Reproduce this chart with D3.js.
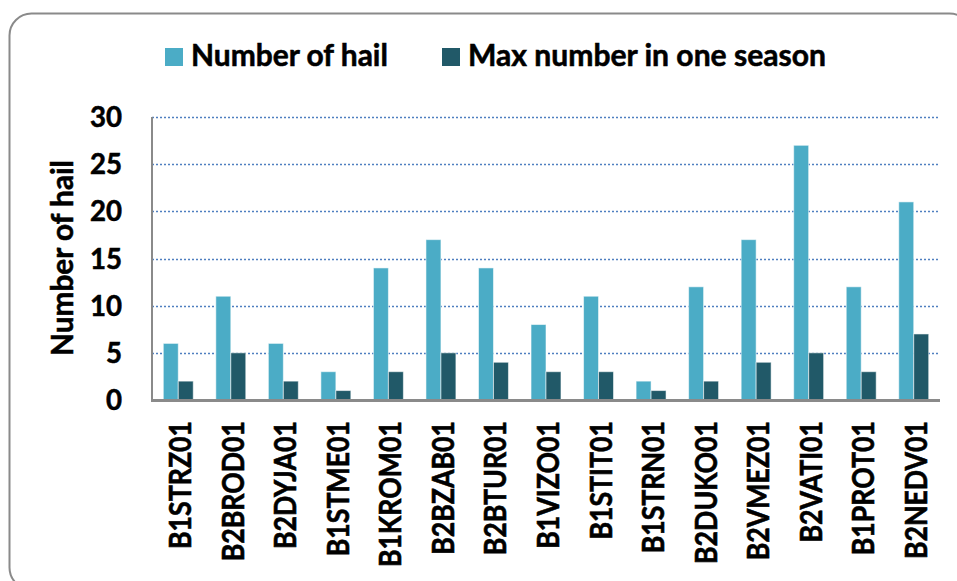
<!DOCTYPE html>
<html>
<head>
<meta charset="utf-8">
<script src="https://cdn.jsdelivr.net/npm/d3@7"></script>
<style>
  html, body { margin: 0; padding: 0; background: #fff; }
  svg { display: block; }
  text { font-family: Lato, "Open Sans", sans-serif; font-weight: bold; fill: #000; stroke: #000; stroke-width: 0.55px; }
</style>
</head>
<body>
<svg id="chart" width="957" height="581"></svg>
<script>
const categories = ["B1STRZ01","B2BROD01","B2DYJA01","B1STME01","B1KROM01","B2BZAB01","B2BTUR01","B1VIZO01","B1STIT01","B1STRN01","B2DUKO01","B2VMEZ01","B2VATI01","B1PROT01","B2NEDV01"];
const numberOfHail = [6,11,6,3,14,17,14,8,11,2,12,17,27,12,21];
const maxInOneSeason = [2,5,2,1,3,5,4,3,3,1,2,4,5,3,7];
const seriesNames = ["Number of hail", "Max number in one season"];
const seriesColors = ["#4BACC6", "#215968"];
const yTicks = [0,5,10,15,20,25,30];
const yTitle = "Number of hail";

(function () {
const svg = d3.select("#chart");

// frame
svg.append("rect")
  .attr("x", 9.5).attr("y", 13.5).attr("width", 962).attr("height", 576)
  .attr("rx", 22).attr("ry", 22)
  .attr("fill", "#fff").attr("stroke", "#8a8a8a").attr("stroke-width", 2);

const pLeft = 152, pRight = 940, pTop = 117, pBottom = 400;

const x = d3.scaleBand().domain(categories).range([pLeft, pRight])
  .paddingInner(0.43).paddingOuter(0.215);
const xs = d3.scaleBand().domain([0,1]).range([0, x.bandwidth()]);
const y = d3.scaleLinear().domain([0, 30]).range([pBottom, pTop]);

function fit(sel, target) {
  const node = sel.node();
  const fs = parseFloat(sel.attr("font-size"));
  const w = node.getComputedTextLength();
  sel.attr("font-size", (fs * target / w).toFixed(2));
}

// gridlines
svg.append("g").selectAll("line")
  .data(yTicks.filter(d => d > 0))
  .join("line")
  .attr("x1", pLeft).attr("x2", pRight)
  .attr("y1", d => Math.round(y(d)) + 0.5).attr("y2", d => Math.round(y(d)) + 0.5)
  .attr("stroke", "#4f7fc0").attr("stroke-width", 1.3)
  .attr("stroke-dasharray", "2,2");

// bars
const groups = svg.append("g").selectAll("g")
  .data(categories)
  .join("g")
  .attr("transform", d => `translate(${x(d)},0)`);

const seriesData = [numberOfHail, maxInOneSeason];
groups.selectAll("rect")
  .data((d, i) => seriesData.map((s, k) => ({k, v: s[i]})))
  .join("rect")
  .attr("x", d => xs(d.k))
  .attr("width", xs.bandwidth())
  .attr("y", d => y(d.v))
  .attr("height", d => pBottom - y(d.v))
  .attr("fill", d => seriesColors[d.k])
  .attr("stroke", "rgba(255,255,255,0.55)").attr("stroke-width", 1);

// axes lines
svg.append("line").attr("x1", pLeft).attr("x2", pLeft).attr("y1", pTop).attr("y2", pBottom)
  .attr("stroke", "#8a8a8a").attr("stroke-width", 2);
svg.append("line").attr("x1", pLeft - 1).attr("x2", pRight).attr("y1", pBottom + 0.5).attr("y2", pBottom + 0.5)
  .attr("stroke", "#8a8a8a").attr("stroke-width", 3);

// y tick labels
const yt = svg.append("g").selectAll("text")
  .data(yTicks)
  .join("text")
  .attr("x", 122).attr("y", d => y(d) + 10)
  .attr("text-anchor", "end")
  .attr("font-size", 28)
  .text(d => d);
{
  const t = yt.filter(d => d === 30);
  fit(t, 32);
  yt.attr("font-size", t.attr("font-size"));
}

// y title
const ytl = svg.append("text")
  .attr("transform", "translate(73,258) rotate(-90)")
  .attr("text-anchor", "middle")
  .attr("font-size", 26)
  .text(yTitle);
fit(ytl, 196);

// x labels
const xl = svg.append("g").selectAll("text")
  .data(categories)
  .join("text")
  .attr("transform", d => `translate(${x(d) + x.bandwidth()/2 + 13},421) rotate(-90) scale(1,1.12)`)
  .attr("text-anchor", "end")
  .attr("font-size", 26)
  .text(d => d);
{
  const t = xl.filter((d, i) => i === 0);
  fit(t, 128);
  xl.attr("font-size", t.attr("font-size"));
}

// legend
const legendX = [165, 442];
const legendTarget = [197, 358];
seriesNames.forEach((name, i) => {
  svg.append("rect").attr("x", legendX[i]).attr("y", 48).attr("width", 18).attr("height", 18)
    .attr("fill", seriesColors[i]);
  const t = svg.append("text").attr("x", legendX[i] + 26).attr("y", 66)
    .attr("font-size", 27).text(name);
  fit(t, legendTarget[i]);
});
})();
</script>
</body>
</html>
